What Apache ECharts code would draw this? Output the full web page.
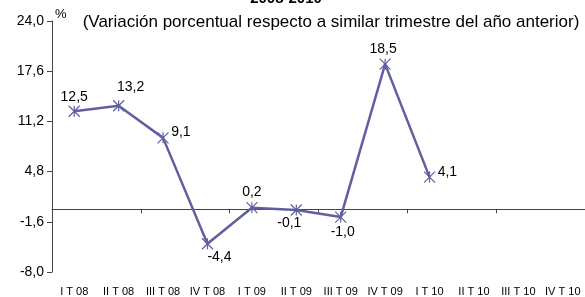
<!DOCTYPE html>
<html>
<head>
<meta charset="utf-8">
<script src="https://cdn.jsdelivr.net/npm/echarts@6/dist/echarts.min.js"></script>
<style>
    html, body { margin: 0; padding: 0; background: #fff; }
    #chart { width: 585px; height: 297px; }
</style>
</head>
<body>
<div id="chart"></div>
<script>
// 数据
var categories = ['I T 08', 'II T 08', 'III T 08', 'IV T 08', 'I T 09', 'II T 09',
    'III T 09', 'IV T 09', 'I T 10', 'II T 10', 'III T 10', 'IV T 10'];
var values = [12.5, 13.2, 9.1, -4.4, 0.2, -0.1, -1.0, 18.5, 4.1, null, null, null];
var yMin = -8.0;
var yMax = 24.0;
var yStep = 6.4;

var lineColor = '#6060a0';
// 标签位置 (每个点)
var labelPlace = [
    { position: 'top', offset: [0, 4] },
    { position: 'top', offset: [12, 0] },
    { position: 'right', offset: [-3, -6] },
    { position: 'bottom', offset: [12, -5] },
    { position: 'top', offset: [0, 3] },
    { position: 'bottom', offset: [-7, -5] },
    { position: 'bottom', offset: [2, -3] },
    { position: 'top', offset: [-2, 3] },
    { position: 'right', offset: [-3, -5] }
];

function fmt(v) {
    return v.toFixed(1).replace('.', ',');
}

var seriesData = values.map(function (v, i) {
    if (v === null) return null;
    return { value: v, label: labelPlace[i] };
});

const myChart = echarts.init(document.getElementById('chart'));
const option = {
    animation: false,
    title: [
        {
            text: '2008-2010',
            left: 281,
            textAlign: 'center',
            top: -14,
            textStyle: { fontFamily: 'Liberation Sans', fontSize: 15, fontWeight: 'bold', color: '#000' }
        },
        {
            text: '(Variación porcentual respecto a similar trimestre del año anterior)',
            left: 326,
            textAlign: 'center',
            top: 9,
            textStyle: { fontFamily: 'Liberation Sans', fontSize: 17, fontWeight: 'normal', color: '#000' }
        },
        {
            text: '%',
            left: 50,
            top: 3,
            textStyle: { fontFamily: 'Liberation Sans', fontSize: 13, fontWeight: 'normal', color: '#000' }
        }
    ],
    grid: {
        left: 52,
        right: 0,
        top: 21,
        bottom: 25
    },
    xAxis: [
        {
            type: 'category',
            data: categories,
            axisLine: { onZero: true, lineStyle: { color: '#444', width: 1 } },
            axisTick: { show: true, length: 4, lineStyle: { color: '#444' } },
            axisLabel: { show: false },
            splitLine: { show: false }
        },
        {
            type: 'category',
            position: 'bottom',
            data: categories,
            axisLine: { show: false, onZero: false },
            axisTick: { show: false },
            axisLabel: {
                margin: 14,
                interval: 0,
                fontFamily: 'Liberation Sans',
                fontSize: 11,
                color: '#000'
            }
        }
    ],
    yAxis: {
        type: 'value',
        min: yMin,
        max: yMax,
        interval: yStep,
        axisLine: { show: true, lineStyle: { color: '#444' } },
        axisTick: { show: true, length: 5, lineStyle: { color: '#444' } },
        splitLine: { show: false },
        axisLabel: {
            margin: 8,
            fontFamily: 'Liberation Sans',
            fontSize: 14,
            color: '#000',
            formatter: function (v) { return fmt(v); }
        }
    },
    series: [
        {
            type: 'line',
            xAxisIndex: 0,
            data: seriesData,
            connectNulls: false,
            symbol: 'path://M0,0L10,10M10,0L0,10M5,0L5,10',
            symbolSize: 11,
            lineStyle: { color: lineColor, width: 2.5 },
            itemStyle: { color: lineColor, borderColor: lineColor, borderWidth: 1.2 },
            label: {
                show: true,
                fontFamily: 'Liberation Sans',
                fontSize: 14,
                color: '#000',
                formatter: function (p) { return fmt(p.value); }
            },
            z: 3
        }
    ]
};
myChart.setOption(option);
</script>
</body>
</html>
